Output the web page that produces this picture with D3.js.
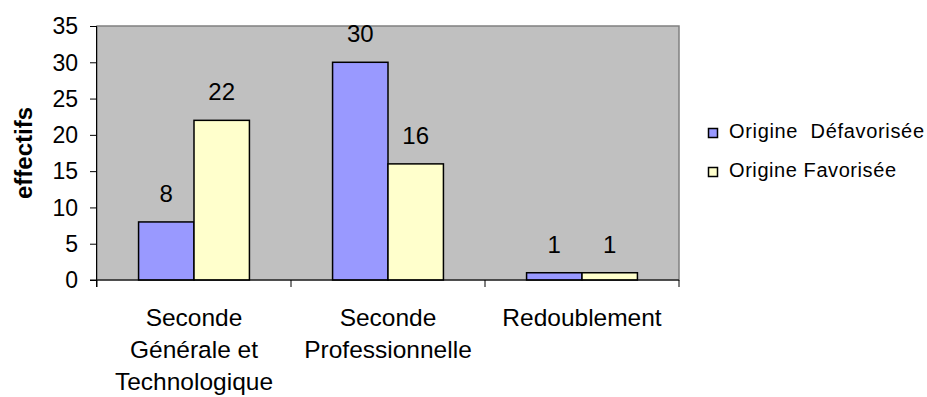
<!DOCTYPE html>
<html>
<head>
<meta charset="utf-8">
<script src="https://cdn.jsdelivr.net/npm/d3@7"></script>
<style>
  html, body { margin: 0; padding: 0; background: #fff; }
  svg { display: block; font-family: "Liberation Sans", Arial, sans-serif; }
</style>
</head>
<body>
<svg id="chart" width="927" height="397"></svg>
<script>
// Data
const categories = [
  ["Seconde", "Générale et", "Technologique"],
  ["Seconde", "Professionnelle"],
  ["Redoublement"]
];
const seriesNames = ["Origine  Défavorisée", "Origine Favorisée"];
const defavorisee = [8, 30, 1];
const favorisee = [22, 16, 1];
const yTicks = [0, 5, 10, 15, 20, 25, 30, 35];
const colors = ["#9999FF", "#FFFFCC"];

const svg = d3.select("#chart");
const plotL = 97, plotR = 679, plotT = 26, plotB = 280;

const x0 = d3.scaleBand().domain(d3.range(categories.length)).range([plotL, plotR]).paddingInner(0).paddingOuter(0);
const y = d3.scaleLinear().domain([0, 35]).range([plotB, plotT]);

// Plot area
svg.append("rect")
  .attr("x", plotL).attr("y", plotT)
  .attr("width", plotR - plotL).attr("height", plotB - plotT)
  .attr("fill", "#C0C0C0").attr("stroke", "#808080").attr("stroke-width", 1.5);

// Bars and value labels
const groupW = x0.bandwidth();
const barW = groupW / 3.5;
const series = [defavorisee, favorisee];
series.forEach((vals, si) => {
  const g = svg.append("g");
  g.selectAll("rect").data(vals).join("rect")
    .attr("x", (d, i) => x0(i) + (groupW - 2 * barW) / 2 + si * barW)
    .attr("y", d => y(d))
    .attr("width", barW)
    .attr("height", d => y(0) - y(d))
    .attr("fill", colors[si])
    .attr("stroke", "#000").attr("stroke-width", 1.5);
  g.selectAll("text").data(vals).join("text")
    .attr("x", (d, i) => x0(i) + (groupW - 2 * barW) / 2 + si * barW + barW / 2)
    .attr("y", d => y(d) - 20)
    .attr("text-anchor", "middle")
    .attr("font-size", 24)
    .text(d => d);
});

// Y axis
const yAxis = d3.axisLeft(y).tickValues(yTicks).tickSize(7).tickPadding(12);
const ya = svg.append("g").attr("transform", `translate(${plotL},0)`).call(yAxis);
ya.select(".domain").attr("stroke", "#000").attr("d", `M-0.5,${plotT}V${plotB + 7}`);
ya.selectAll(".tick line").attr("stroke", "#000");
ya.selectAll("text")
  .attr("font-size", 23)
  .attr("font-family", "Liberation Sans, Arial, sans-serif")
  .attr("fill", "#000")
  .attr("dy", "0.34em");

// X axis
const xa = svg.append("g").attr("transform", `translate(0,${plotB})`);
xa.append("line").attr("x1", plotL - 7).attr("x2", plotR).attr("y1", 0).attr("y2", 0).attr("stroke", "#000");
xa.selectAll("line.tick").data(d3.range(categories.length + 1)).join("line")
  .attr("class", "tick")
  .attr("x1", i => i < categories.length ? x0(i) : plotR)
  .attr("x2", i => i < categories.length ? x0(i) : plotR)
  .attr("y1", 0).attr("y2", 7).attr("stroke", "#000");

// Category labels
categories.forEach((lines, i) => {
  const cx = x0(i) + groupW / 2;
  const t = svg.append("text")
    .attr("text-anchor", "middle")
    .attr("font-size", 24.5);
  lines.forEach((ln, k) => {
    t.append("tspan").attr("x", cx).attr("y", 326 + k * 32).text(ln);
  });
});

// Y axis title
svg.append("text")
  .attr("transform", `translate(32,${(plotT + plotB) / 2}) rotate(-90)`)
  .attr("text-anchor", "middle")
  .attr("font-size", 24)
  .attr("font-weight", "bold")
  .text("effectifs");

// Legend
const legend = svg.append("g");
const legendW = [195, 167];
seriesNames.forEach((name, i) => {
  const base = 138 + i * 39;
  legend.append("rect")
    .attr("x", 708.5).attr("y", base - 9.5).attr("width", 9).attr("height", 9)
    .attr("fill", colors[i]).attr("stroke", "#000").attr("stroke-width", 1.5);
  legend.append("text")
    .attr("x", 729).attr("y", base)
    .attr("font-size", 20)
    .attr("textLength", legendW[i])
    .attr("lengthAdjust", "spacing")
    .style("white-space", "pre")
    .text(name);
});
</script>
</body>
</html>
